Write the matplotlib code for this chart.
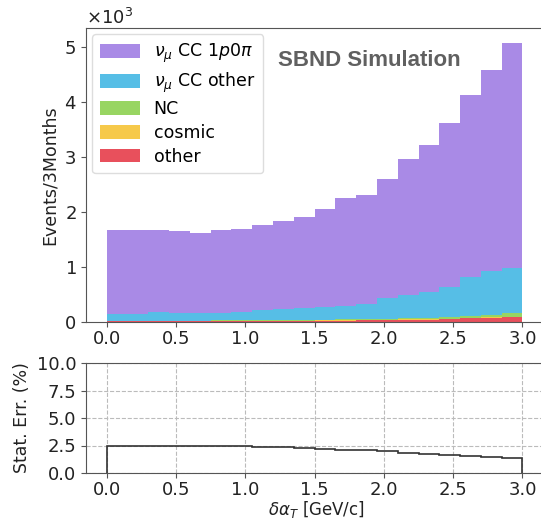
import numpy as np
import matplotlib
matplotlib.use("Agg")
import matplotlib.pyplot as plt
from matplotlib.patches import Patch

# Binning in delta alpha_T
bin_edges = np.linspace(0.0, 3.0, 21)

# Event counts per bin (stacked components)
sig_cc1p0pi = [1534, 1537, 1485, 1491, 1460, 1497, 1511, 1540, 1600, 1661,
               1781, 1958, 1988, 2176, 2458, 2680, 2982, 3315, 3659, 4110]
cc_other = [121, 121, 164, 145, 133, 142, 150, 186, 195, 210,
            238, 250, 273, 368, 429, 469, 546, 710, 800, 820]
nc = [8, 8, 8, 9, 9, 10, 10, 11, 12, 13, 14, 16, 18, 20, 24, 28, 33, 40, 50, 60]
cosmic = [4, 4, 4, 4, 4, 4, 5, 5, 5, 5, 6, 6, 6, 7, 7, 8, 8, 9, 10, 10]
other = [12, 12, 12, 12, 12, 14, 15, 16, 18, 20, 22, 25, 30, 35, 40, 45, 55, 65, 75, 85]

# Statistical error per bin (%)
stat_err = [2.45, 2.45, 2.46, 2.47, 2.49, 2.46, 2.43, 2.39, 2.34, 2.29,
            2.20, 2.11, 2.08, 1.96, 1.84, 1.76, 1.66, 1.55, 1.48, 1.40]

labels = [r"$\nu_\mu$ CC 1$p0\pi$", r"$\nu_\mu$ CC other", "NC", "cosmic", "other"]
colors = ["#a98ae6", "#56bee6", "#98d562", "#f6c94a", "#e8505c"]

plt.rcParams["font.family"] = "DejaVu Sans"
plt.rcParams["font.size"] = 13
plt.rcParams["axes.labelsize"] = 12.5
plt.rcParams["xtick.labelsize"] = 13
plt.rcParams["ytick.labelsize"] = 13
plt.rcParams["xtick.major.pad"] = 2.5
plt.rcParams["axes.edgecolor"] = "#555555"
plt.rcParams["xtick.color"] = "#555555"
plt.rcParams["ytick.color"] = "#555555"
plt.rcParams["xtick.labelcolor"] = "#222222"
plt.rcParams["ytick.labelcolor"] = "#222222"
plt.rcParams["axes.labelcolor"] = "#222222"

fig = plt.figure(figsize=(5.41, 5.19), dpi=100)
W, H = 541.0, 519.0
ax = fig.add_axes([86 / W, 1 - 322 / H, (546 - 86) / W, (322 - 28) / H])
ax2 = fig.add_axes([86 / W, 1 - 473 / H, (546 - 86) / W, (473 - 363) / H])

centers = 0.5 * (bin_edges[:-1] + bin_edges[1:])
stack = [other, cosmic, nc, cc_other, sig_cc1p0pi]
stack_colors = colors[::-1]
ax.hist([centers] * 5, bins=bin_edges, weights=stack, stacked=True,
        histtype="stepfilled", color=stack_colors, linewidth=0)

ax.set_xlim(-0.15, 3.17)
ax.set_ylim(0, 5350)
ax.set_yticks([0, 1000, 2000, 3000, 4000, 5000])
ax.set_xticks([0.0, 0.5, 1.0, 1.5, 2.0, 2.5, 3.0])
ax.ticklabel_format(axis="y", style="sci", scilimits=(0, 0), useMathText=True)
ax.yaxis.get_offset_text().set_fontsize(13)
ax.set_ylabel("Events/3Months")
ax.spines["right"].set_visible(False)

handles = [Patch(facecolor=c, edgecolor="none") for c in colors]
leg = ax.legend(handles, labels, loc="upper left", fontsize=12.5,
                handlelength=2.3, handleheight=0.85, framealpha=1,
                borderaxespad=0.35, labelspacing=0.32, borderpad=0.45)
leg.get_frame().set_edgecolor("#dddddd")

ax.text(0.418, 0.871, "SBND Simulation", transform=ax.transAxes,
        fontsize=16, fontweight="bold", color="#606060",
        family="Liberation Sans")

ax2.hist(centers, bins=bin_edges, weights=stat_err, histtype="step",
         color="#333333", linewidth=1.2)
ax2.set_xlim(-0.15, 3.17)
ax2.set_ylim(0, 10)
ax2.set_yticks([0.0, 2.5, 5.0, 7.5, 10.0])
ax2.set_xticks([0.0, 0.5, 1.0, 1.5, 2.0, 2.5, 3.0])
ax2.grid(True, linestyle="--", color="#bbbbbb", linewidth=0.8)
ax2.set_axisbelow(True)
ax2.set_ylabel("Stat. Err. (%)")
ax2.set_xlabel(r"$\delta\alpha_T$ [GeV/c]", labelpad=0, fontsize=12)

fig.savefig("out.png", dpi=100)
